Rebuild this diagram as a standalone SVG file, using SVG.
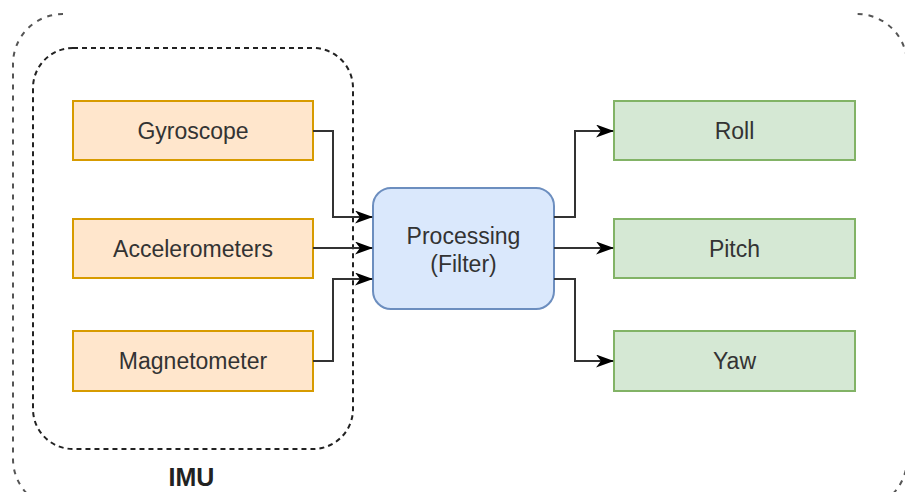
<svg xmlns="http://www.w3.org/2000/svg" width="905" height="492" viewBox="0 0 905 492">
<style>
.lbl{font-family:"Liberation Sans",Arial,sans-serif;font-size:23px;fill:#333333;text-anchor:middle;dominant-baseline:central}
.in rect{fill:#ffe6cc;stroke:#d79b00;stroke-width:2}
.out rect{fill:#d5e8d4;stroke:#82b366;stroke-width:2}
.proc rect{fill:#dae8fc;stroke:#6c8ebf;stroke-width:2}
.conn path{fill:none;stroke:#333333;stroke-width:2;marker-end:url(#arr)}
</style>
<defs>
<marker id="arr" markerUnits="userSpaceOnUse" viewBox="0 0 18 13" refX="17" refY="6.5" markerWidth="18" markerHeight="13" orient="auto">
<path d="M0,0 L18,6.5 L0,13 L5,6.5 Z" fill="#000000"/>
</marker>
</defs>
<rect width="905" height="492" fill="#ffffff"/>
<g id="outer-frame">
<path d="M63,14 A50,50 0 0 0 13,64 L13,459 A50,50 0 0 0 63,509 L857,509 A50,50 0 0 0 907,459 L907,64 A50,50 0 0 0 857,14" fill="none" stroke="#555555" stroke-width="2" stroke-dasharray="5 6"/>
</g>
<g id="imu">
<rect x="33" y="48" width="320" height="401" rx="40" ry="40" fill="none" stroke="#222222" stroke-width="2" stroke-dasharray="5 4"/>
<text x="191.5" y="486" font-family="Liberation Sans,Arial,sans-serif" font-size="25" font-weight="bold" fill="#222222" text-anchor="middle">IMU</text>
</g>
<g id="gyroscope" class="in"><rect x="73" y="101" width="240" height="59"/><text class="lbl" x="193" y="131">Gyroscope</text></g>
<g id="accelerometers" class="in"><rect x="73" y="219" width="240" height="59"/><text class="lbl" x="193" y="249">Accelerometers</text></g>
<g id="magnetometer" class="in"><rect x="73" y="331" width="240" height="60"/><text class="lbl" x="193" y="361">Magnetometer</text></g>
<g id="processing" class="proc"><rect x="373" y="188" width="181" height="121" rx="18" ry="18"/><text class="lbl" x="463.5" y="236">Processing</text><text class="lbl" x="463.5" y="264">(Filter)</text></g>
<g id="roll" class="out"><rect x="614" y="101" width="241" height="59"/><text class="lbl" x="734.5" y="131">Roll</text></g>
<g id="pitch" class="out"><rect x="614" y="219" width="241" height="59"/><text class="lbl" x="734.5" y="249">Pitch</text></g>
<g id="yaw" class="out"><rect x="614" y="331" width="241" height="60"/><text class="lbl" x="734.5" y="361">Yaw</text></g>
<g id="connectors" class="conn">
<path d="M313,131 L333,131 L333,217 L372,217"/>
<path d="M313,248 L372,248"/>
<path d="M313,361 L333,361 L333,279 L372,279"/>
<path d="M554,217 L575,217 L575,131 L613,131"/>
<path d="M554,248 L613,248"/>
<path d="M554,279 L575,279 L575,361 L613,361"/>
</g>
</svg>
